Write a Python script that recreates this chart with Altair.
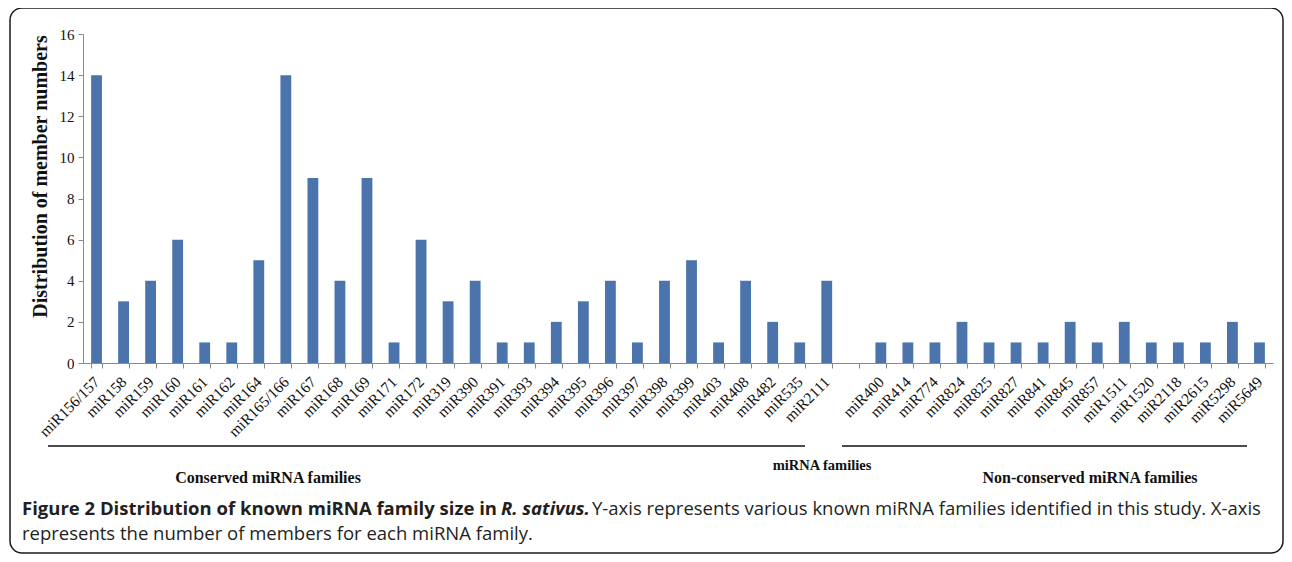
import altair as alt
import pandas as pd

conserved_families = ["miR156/157", "miR158", "miR159", "miR160", "miR161", "miR162", "miR164",
                      "miR165/166", "miR167", "miR168", "miR169", "miR171", "miR172", "miR319",
                      "miR390", "miR391", "miR393", "miR394", "miR395", "miR396", "miR397",
                      "miR398", "miR399", "miR403", "miR408", "miR482", "miR535", "miR2111"]
conserved_counts = [14, 3, 4, 6, 1, 1, 5, 14, 9, 4, 9, 1, 6, 3, 4, 1, 1, 2, 3, 4, 1, 4, 5, 1, 4, 2, 1, 4]

nonconserved_families = ["miR400", "miR414", "miR774", "miR824", "miR825", "miR827", "miR841",
                         "miR845", "miR857", "miR1511", "miR1520", "miR2118", "miR2615", "miR5298", "miR5649"]
nonconserved_counts = [1, 1, 1, 2, 1, 1, 1, 2, 1, 2, 1, 1, 1, 2, 1]

gap_label = [" "]
y_ticks = [0, 2, 4, 6, 8, 10, 12, 14, 16]

domain = conserved_families + gap_label + nonconserved_families
df = pd.DataFrame({
    "family": conserved_families + nonconserved_families,
    "count": conserved_counts + nonconserved_counts,
})

W, H = 1190, 329
SERIF = "Liberation Serif"
SANS = "Open Sans"
GRAY = "#8a8a8a"

bars = alt.Chart(df).mark_bar(color="#4A74AB").encode(
    x=alt.X("family:N", sort=domain,
            scale=alt.Scale(domain=domain, paddingInner=0.6, paddingOuter=0.3),
            axis=alt.Axis(title=None, labelAngle=-45, labelAlign="right", labelBaseline="middle",
                          labelFont=SERIF, labelFontSize=15.5, labelColor="#111", labelPadding=11,
                          tickBand="extent", tickSize=5, tickColor=GRAY, domainColor=GRAY,
                          labelOverlap=False)),
    y=alt.Y("count:Q", scale=alt.Scale(domain=[0, 16], nice=False),
            axis=alt.Axis(title="Distribution of member numbers", values=y_ticks, grid=False,
                          labelFont=SERIF, labelFontSize=15, labelColor="#111", labelPadding=4,
                          tickSize=5, tickColor=GRAY, domainColor=GRAY,
                          titleFont=SERIF, titleFontSize=20, titleFontWeight="bold", titleColor="#111",
                          titleX=-43, titleY=142, titleAlign="center", titleBaseline="middle",
                          titleAngle=270)),
)

one = alt.Data(values=[{"a": 1}])

frame = alt.Chart(one).mark_rect(filled=False, stroke="#1a1a1a", strokeWidth=1.5, cornerRadius=12).encode(
    x=alt.value(-73), x2=alt.value(1200), y=alt.value(-26), y2=alt.value(519))

line_cons = alt.Chart(one).mark_rule(color="#111", strokeWidth=1.5).encode(
    x=alt.value(-35), x2=alt.value(722), y=alt.value(412))
line_non = alt.Chart(one).mark_rule(color="#111", strokeWidth=1.5).encode(
    x=alt.value(759), x2=alt.value(1164), y=alt.value(412))

def txt(s, x, y, font, size, weight="normal", style="normal", align="center", baseline="middle", color="#111"):
    return alt.Chart(one).mark_text(font=font, fontSize=size, fontWeight=weight, fontStyle=style,
                                    align=align, baseline=baseline, color=color).encode(
        x=alt.value(x), y=alt.value(y), text=alt.value(s))

t_cons = txt("Conserved miRNA families", 185, 444, SERIF, 16, "bold")
t_non = txt("Non-conserved miRNA families", 1007, 444, SERIF, 16, "bold")
t_mid = txt("miRNA families", 739, 432, SERIF, 14.5, "bold")

CAP = 18.5
cap1a = txt("Figure 2 Distribution of known miRNA family size in", -61, 481, SANS, CAP, "bold",
            align="left", baseline="alphabetic", color="#231f20")
cap1b = txt("R. sativus.", 418, 481, SANS, CAP, "bold", "italic",
            align="left", baseline="alphabetic", color="#231f20")
cap1c = txt("Y-axis represents various known miRNA families identified in this study. X-axis", 509, 481,
            SANS, CAP, align="left", baseline="alphabetic", color="#231f20")
cap2 = txt("represents the number of members for each miRNA family.", -61, 506, SANS, CAP,
           align="left", baseline="alphabetic", color="#231f20")

chart = alt.layer(frame, bars, line_cons, line_non, t_cons, t_non, t_mid, cap1a, cap1b, cap1c, cap2).properties(
    width=W, height=H,
    autosize=alt.AutoSizeParams(type="none"),
    padding={"left": 75, "top": 26, "right": 11, "bottom": 191},
).configure_view(stroke=None)

chart.save("out.html", embed_options={"renderer": "svg", "actions": False})
